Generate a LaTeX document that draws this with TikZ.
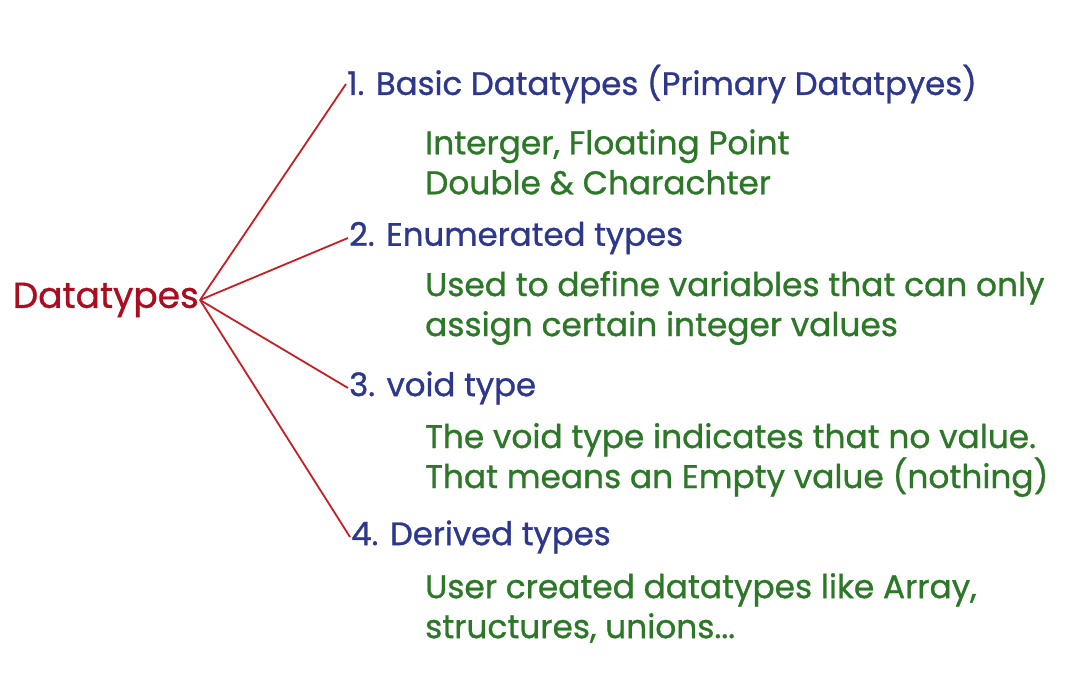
\documentclass[tikz,border=0pt]{standalone}
\usepackage{fontspec}
\setmainfont{Poppins}[FakeBold=0.9]
\usetikzlibrary{positioning}

\definecolor{rootred}{RGB}{170,12,32}
\definecolor{linered}{RGB}{200,30,35}
\definecolor{headblue}{RGB}{45,55,140}
\definecolor{descgreen}{RGB}{45,120,40}

\tikzset{
	rootnode/.style={text=rootred, font=\fontsize{36}{40}\selectfont, inner sep=1pt},
	headnode/.style={text=headblue, font=\fontsize{32.4}{36}\selectfont, anchor=west, inner sep=1pt},
	descnode/.style={text=descgreen, font=\fontsize{32.8}{40}\selectfont, anchor=west, align=left, inner sep=0pt},
	branch/.style={linered, line width=1.8pt}
}

\begin{document}
\begin{tikzpicture}[x=1pt,y=-1pt]
	\useasboundingbox (0,0) rectangle (1080,700);
	
	% Wurzel
	\node[rootnode, anchor=east] (root) at (200,300) {Datatypes};
	
	% Ueberschriften
	\node[headnode] (head1) at (346,84) {1. Basic Datatypes (Primary Datatpyes)};
	\node[headnode] (head2) at (348,238) {2. Enumerated types};
	\node[headnode] (head3) at (348,388) {3. void type};
	\node[headnode] (head4) at (350,537) {4. Derived types};
	
	% Beschreibungen
	\node[descnode] (desc1) at (425,162) {Interger, Floating Point\\Double \& Charachter};
	\node[descnode] (desc2) at (425,308) {Used to define variables that can only\\assign certain integer values};
	\node[descnode] (desc3) at (425,460) {The void type indicates that no value.\\That means an Empty value (nothing)};
	\node[descnode] (desc4) at (425,608) {User created datatypes like Array,\\structures, unions...};
	
	% Verbindungen
	\foreach \i in {1,...,4} {
		\draw[branch] (root.east) -- (head\i.west);
	}
\end{tikzpicture}
\end{document}
